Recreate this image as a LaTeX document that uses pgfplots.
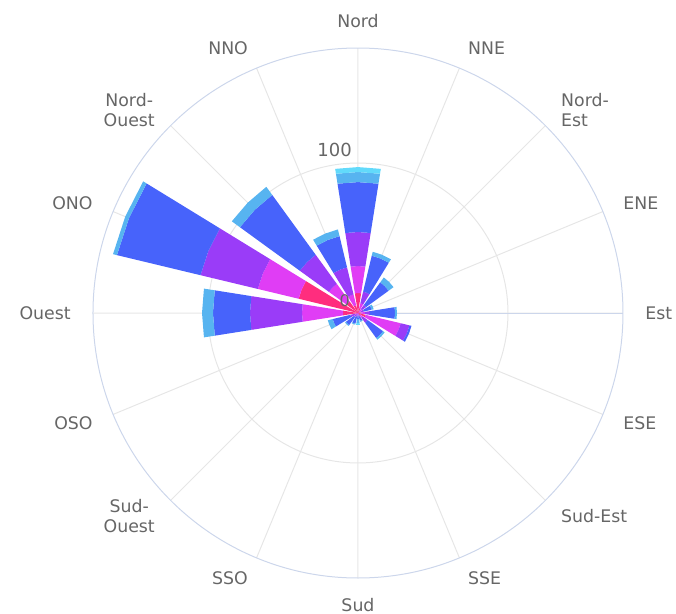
\documentclass[border=0pt]{standalone}
\usepackage{pgfplots}
\usepackage{pgfplotstable}
\pgfplotsset{compat=1.18}
\usepgfplotslibrary{polar}
\usepackage{fontspec}
\setmainfont{DejaVu Sans}

\definecolor{c1}{HTML}{FF2D7E}
\definecolor{c2}{HTML}{E03DF5}
\definecolor{c3}{HTML}{9A3CF8}
\definecolor{c4}{HTML}{4763FB}
\definecolor{c5}{HTML}{57B4F0}
\definecolor{c6}{HTML}{62DAFB}
\definecolor{gridgray}{HTML}{E6E6E6}
\definecolor{outergray}{HTML}{CCD6EB}
\definecolor{labelgray}{HTML}{666666}

% wind rose values: angle (math, deg), one column per speed class (inner to outer)
\pgfplotstableread{
ang   v1    v2    v3    v4    v5    v6
90    13.3  18    22.7  33.3  6.7   3.3
67.5  3.3   3.4   8     24.6  2.7   0
45    1.3   2     3.4   18.6  4     0
22.5  0     2     2     5.3   1.4   0
0     2     2.7   3.3   16.7  1.3   0
337.5 5.3   24    6     1.4   0     0
315   2     2     4     12.7  1.3   0
292.5 0     1     1.5   2.8   0.7   0
270   0     1     1     2     2.7   1.3
247.5 0     1     1.5   4.8   0.7   0
225   0     1.3   2     6.7   0.7   0
202.5 0     2     3.3   12    3.4   0
180   10    27.3  34.7  24.7  7.3   0
157.5 40.7  28    39.3  57.3  2.7   0
135   9.3   14.7  24    49.3  6.7   0
112.5 5.3   7.4   18.6  21.4  4.6   0
}\rose

\newcommand\drawrow[1]{%
  \pgfplotstablegetelem{#1}{ang}\of\rose
  \edef\ang{\pgfplotsretval}%
  \def\rlow{0}%
  \pgfplotsforeachungrouped \k in {1,...,6}{%
    \pgfplotstablegetelem{#1}{v\k}\of\rose
    \edef\val{\pgfplotsretval}%
    \pgfmathsetmacro\rhigh{\rlow+\val}%
    \pgfmathsetmacro\aL{\ang-9}%
    \pgfmathsetmacro\aR{\ang+9}%
    \ifdim\val pt>0pt
      \edef\temp{\noexpand\addplot[draw=none, fill=c\k, forget plot] coordinates {(\aL,\rlow) (\aL,\rhigh) (\ang,\rhigh) (\aR,\rhigh) (\aR,\rlow) (\ang,\rlow)};}%
      \temp
    \fi
    \let\rlow\rhigh
  }%
}

\begin{document}
\begin{tikzpicture}[lbl/.style={font=\fontsize{13}{15.5}\selectfont, text=labelgray, inner sep=0pt}]
\useasboundingbox (-268.5pt,-225.75pt) rectangle (238.5pt,234.75pt);
\begin{polaraxis}[
  at={(0,0)}, anchor=center,
  width=397.5pt, height=397.5pt, scale only axis,
  ymin=0, ymax=176.7,
  xtick={0,22.5,45,67.5,90,112.5,135,157.5,180,202.5,225,247.5,270,292.5,315,337.5},
  ytick={100},
  xticklabels={}, yticklabels={},
  major tick length=0pt,
  grid=major,
  major grid style={draw=gridgray, line width=0.75pt},
  axis line style={draw=outergray, line width=0.75pt},
  clip=false,
]
\pgfplotsinvokeforeach{0,...,15}{\drawrow{#1}}

\node[lbl, anchor=south] at (axis cs:90,190) {Nord};
\node[lbl, anchor=west] at (axis cs:67.5,191.4) {NNE};
\node[lbl, anchor=west, align=left] at (axis cs:45,191.4) {Nord-\\Est};
\node[lbl, anchor=west] at (axis cs:22.5,191.4) {ENE};
\node[lbl, anchor=west] at (axis cs:0,191.4) {Est};
\node[lbl, anchor=west] at (axis cs:337.5,191.4) {ESE};
\node[lbl, anchor=west] at (axis cs:315,191.4) {Sud-Est};
\node[lbl, anchor=west] at (axis cs:292.5,191.4) {SSE};
\node[lbl, anchor=north] at (axis cs:270,190) {Sud};
\node[lbl, anchor=east] at (axis cs:247.5,191.4) {SSO};
\node[lbl, anchor=east, align=center] at (axis cs:225,191.4) {Sud-\\Ouest};
\node[lbl, anchor=east] at (axis cs:202.5,191.4) {OSO};
\node[lbl, anchor=east] at (axis cs:180,191.4) {Ouest};
\node[lbl, anchor=east] at (axis cs:157.5,191.4) {ONO};
\node[lbl, anchor=east, align=center] at (axis cs:135,191.4) {Nord-\\Ouest};
\node[lbl, anchor=east] at (axis cs:112.5,191.4) {NNO};
\node[lbl, font=\fontsize{13.5}{16}\selectfont, anchor=south east, xshift=-4.5pt, yshift=4.5pt] at (axis cs:90,100) {100};
\node[lbl, font=\fontsize{12}{14}\selectfont, anchor=south east, xshift=-6pt, yshift=4.5pt] at (axis cs:0,0) {0};
\end{polaraxis}
\end{tikzpicture}
\end{document}
